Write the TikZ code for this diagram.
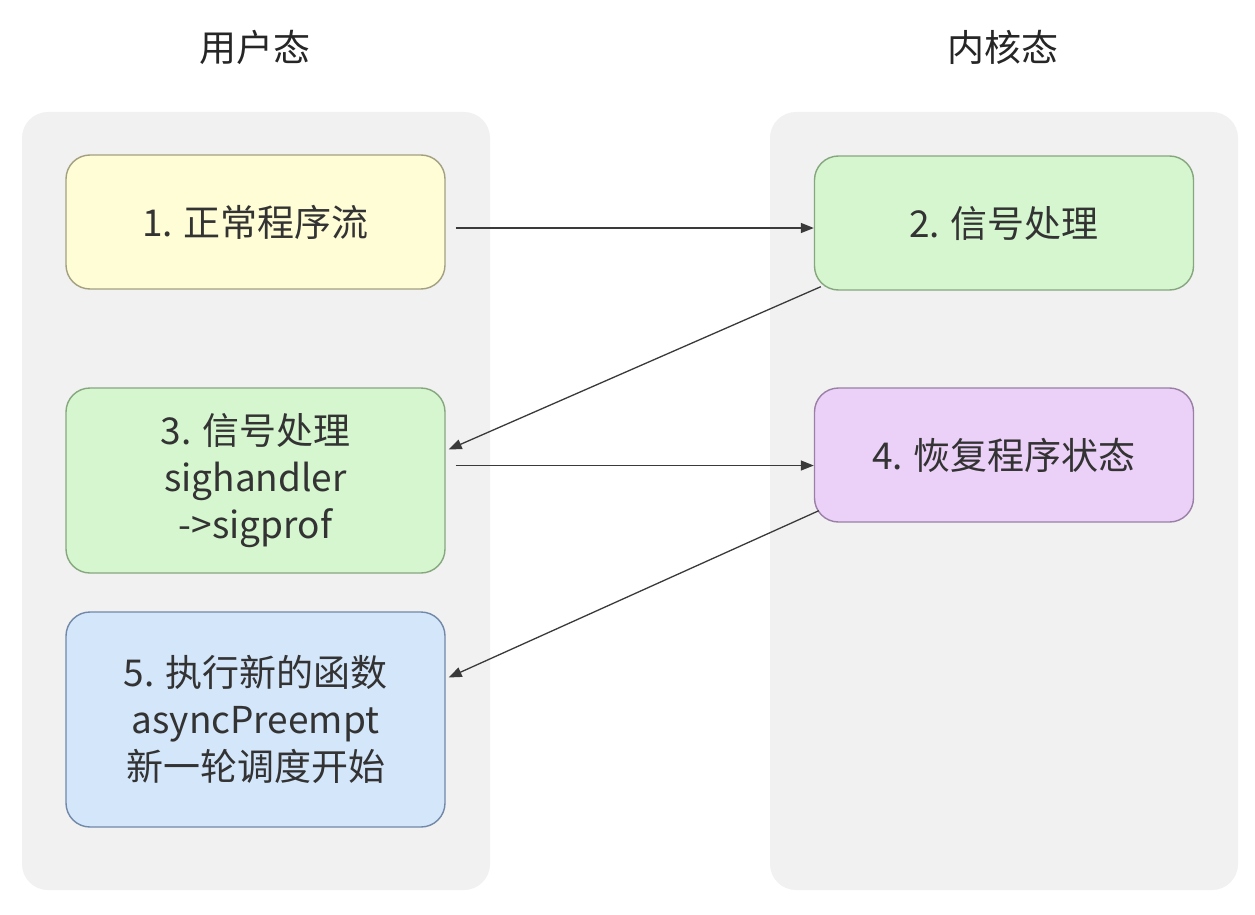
\documentclass[tikz,border=0pt]{standalone}
\usepackage{fontspec}
\setmainfont{Noto Sans CJK SC}
\usetikzlibrary{arrows.meta,calc}
\definecolor{panelgray}{HTML}{F1F1F1}
\definecolor{txt}{HTML}{333333}
\definecolor{yfill}{HTML}{FFFDD6}
\definecolor{ydraw}{HTML}{A3A080}
\definecolor{gfill}{HTML}{D5F6CF}
\definecolor{gdraw}{HTML}{86A77E}
\definecolor{pfill}{HTML}{EBD0F7}
\definecolor{pdraw}{HTML}{9A7FA6}
\definecolor{bfill}{HTML}{D4E6FA}
\definecolor{bdraw}{HTML}{7188A8}
\definecolor{arrowc}{HTML}{3A3A3A}
\begin{document}
\begin{tikzpicture}[x=1pt,y=-1pt,
  panel/.style={fill=panelgray, draw=none, rounded corners=26pt, inner sep=0pt},
  box/.style={rounded corners=24pt, line width=1.4pt, align=center, text=txt,
    minimum width=379pt, inner sep=0pt,
    font=\fontsize{37}{47}\selectfont},
  title/.style={text=black!85, font=\fontsize{37}{47}\selectfont},
  arr/.style={draw=arrowc, line width=1.3pt, -{Triangle[length=13pt,width=10pt]}}]
\useasboundingbox (0,0) rectangle (1255,915);
\fill[white] (0,0) rectangle (1255,915);

% column backgrounds
\node[panel, minimum width=468pt, minimum height=778pt] (pu) at (256,501) {};
\node[panel, minimum width=468pt, minimum height=778pt] (pk) at (1004,501) {};

% column titles
\node[title] (tu) at (255,47) {用户态};
\node[title] (tk) at (1003,47) {内核态};

% steps
\node[box, fill=yfill, draw=ydraw, minimum height=134pt] (b1) at (255.5,222) {1. 正常程序流};
\node[box, fill=gfill, draw=gdraw, minimum height=134pt] (b2) at (1004,223) {2. 信号处理};
\node[box, fill=gfill, draw=gdraw, minimum height=185pt] (b3) at (255.5,480.5) {3. 信号处理\\sighandler\\->sigprof};
\node[box, fill=pfill, draw=pdraw, minimum height=134pt] (b4) at (1004,455) {4. 恢复程序状态};
\node[box, fill=bfill, draw=bdraw, minimum height=215pt] (b5) at (255.5,719.5) {5. 执行新的函数\\asyncPreempt\\新一轮调度开始};

% transitions
\coordinate (s12) at ($(b1.east)+(10,6)$);
\draw[arr] (s12) -- (s12 -| b2.west);
\draw[arr] ($(b2.south west)+(7,-4)$) -- ($(b3.east)+(3,-31)$);
\coordinate (s34) at ($(b3.east)+(10,-15)$);
\draw[arr] (s34) -- (s34 -| b4.west);
\draw[arr] ($(b4.south west)+(5,-12)$) -- ($(b5.east)+(3,-42)$);
\end{tikzpicture}
\end{document}
